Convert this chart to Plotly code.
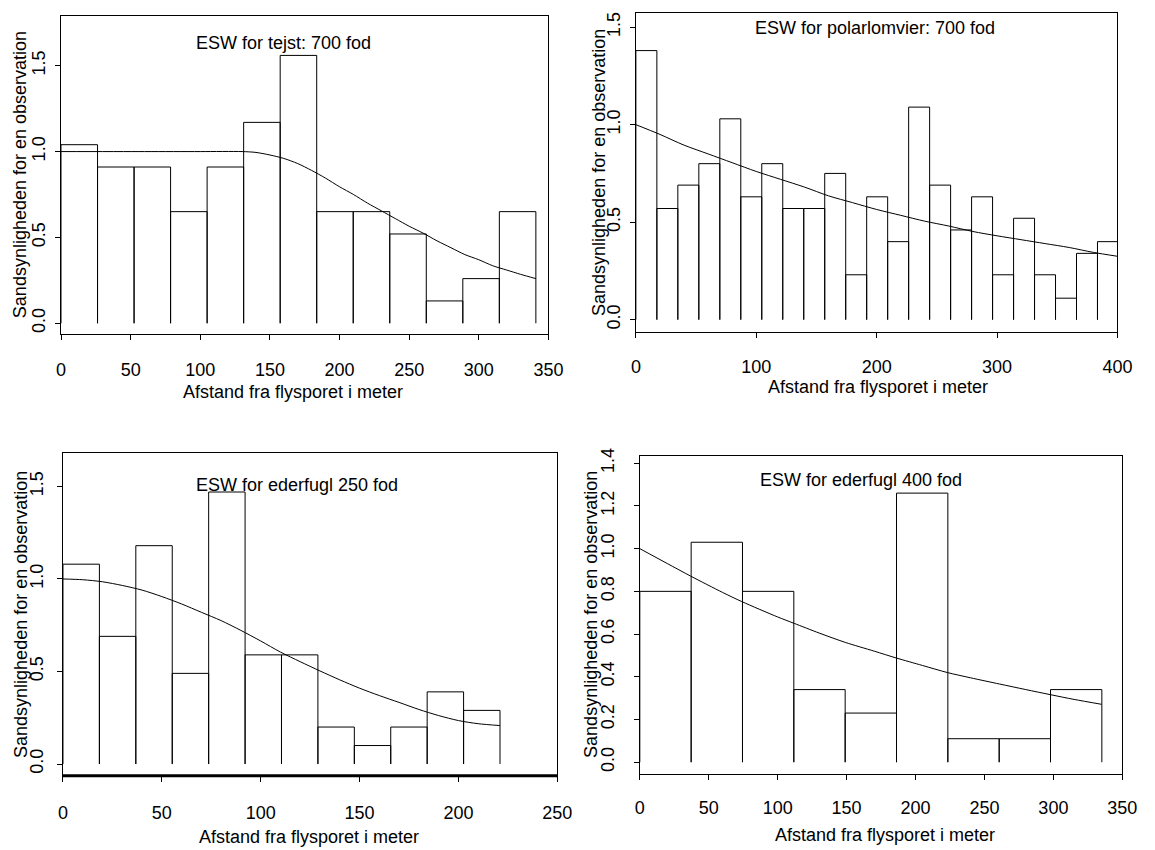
import plotly.graph_objects as go

W, H = 1155, 850

# ---------------- data ----------------
# Panel 1: tejst
tejst_heights = [1.04, 0.91, 0.91, 0.65, 0.91, 1.17, 1.56, 0.65, 0.65, 0.52, 0.13, 0.26, 0.65]
tejst_bin_width = 26.23
tejst_curve_x = [0, 60, 100, 130, 140, 150, 160, 170, 180, 190, 200, 210, 220, 230, 240, 250,
                 260, 270, 280, 290, 300, 310, 320, 330, 341]
tejst_curve_y = [1.0, 1.0, 1.0, 1.0, 0.995, 0.98, 0.96, 0.93, 0.89, 0.845, 0.795, 0.75, 0.70,
                 0.655, 0.61, 0.565, 0.525, 0.48, 0.44, 0.40, 0.37, 0.335, 0.31, 0.285, 0.26]

# Panel 2: polarlomvier
polar_heights = [1.38, 0.57, 0.69, 0.80, 1.03, 0.63, 0.80, 0.57, 0.57, 0.75, 0.23, 0.63,
                 0.40, 1.09, 0.69, 0.46, 0.63, 0.23, 0.52, 0.23, 0.11, 0.34, 0.40]
polar_bin_width = 17.43
polar_curve_x = [0, 20, 40, 60, 80, 100, 120, 140, 160, 180, 200, 220, 240, 260, 280, 300,
                 320, 340, 360, 380, 400]
polar_curve_y = [1.0, 0.95, 0.895, 0.85, 0.805, 0.76, 0.72, 0.68, 0.635, 0.60, 0.565, 0.535,
                 0.505, 0.48, 0.452, 0.43, 0.41, 0.39, 0.37, 0.345, 0.325]

# Panel 3: ederfugl 250 fod
eder250_heights = [1.08, 0.69, 1.18, 0.49, 1.47, 0.59, 0.59, 0.20, 0.10, 0.20, 0.39, 0.29]
eder250_bin_width = 18.42
eder250_curve_x = [0, 10, 20, 30, 40, 50, 60, 70, 80, 90, 100, 110, 120, 130, 140, 150, 160,
                   170, 180, 190, 200, 210, 221]
eder250_curve_y = [1.0, 0.996, 0.985, 0.965, 0.94, 0.905, 0.865, 0.82, 0.775, 0.722, 0.665,
                   0.605, 0.553, 0.503, 0.455, 0.41, 0.37, 0.333, 0.295, 0.262, 0.235, 0.218, 0.208]

# Panel 4: ederfugl 400 fod
eder400_heights = [0.80, 1.03, 0.80, 0.34, 0.23, 1.26, 0.11, 0.11, 0.34]
eder400_bin_width = 37.24
eder400_curve_x = [0, 20, 37, 60, 74, 100, 112, 130, 149, 170, 186, 205, 223, 240, 261, 280,
                   298, 315, 335]
eder400_curve_y = [1.0, 0.93, 0.871, 0.795, 0.752, 0.68, 0.65, 0.605, 0.561, 0.52, 0.488,
                   0.453, 0.42, 0.395, 0.366, 0.34, 0.316, 0.294, 0.271]

titles = ["ESW for tejst: 700 fod", "ESW for polarlomvier: 700 fod",
          "ESW for ederfugl 250 fod", "ESW for ederfugl 400 fod"]
x_title = "Afstand fra flysporet i meter"
y_title = "Sandsynligheden for en observation"

# ---------------- layout geometry (pixels) ----------------
panels = [
    dict(h=tejst_heights, w=tejst_bin_width, cx=tejst_curve_x, cy=tejst_curve_y,
         px=(57, 553), py=(8, 329), xr=[0, 350], yr=[-0.062, 1.79], xd=50,
         yt=[0, 0.5, 1.0, 1.5], tpos=(160, 1.63), xt_px=(293, 388), yt_px=(16, 168),
         ystand=3, xstand=14),
    dict(h=polar_heights, w=polar_bin_width, cx=polar_curve_x, cy=polar_curve_y,
         px=(642, 1132), py=(5, 327), xr=[0, 400], yr=[-0.063, 1.573], xd=100,
         yt=[0, 0.5, 1.0, 1.5], tpos=(199, 1.496), xt_px=(888, 383), yt_px=(605, 166),
         ystand=3, xstand=13),
    dict(h=eder250_heights, w=eder250_bin_width, cx=eder250_curve_x, cy=eder250_curve_y,
         px=(59, 562), py=(449, 775), xr=[0, 250], yr=[-0.063, 1.682], xd=50,
         yt=[0, 0.5, 1.0, 1.5], tpos=(118.5, 1.507), xt_px=(309, 837), yt_px=(17, 612),
         ystand=7, xstand=16),
    dict(h=eder400_heights, w=eder400_bin_width, cx=eder400_curve_x, cy=eder400_curve_y,
         px=(646, 1137), py=(452, 773), xr=[0, 350], yr=[-0.054, 1.435], xd=50,
         yt=[0, 0.2, 0.4, 0.6, 0.8, 1.0, 1.2, 1.4], tpos=(160.5, 1.323), xt_px=(895, 835),
         yt_px=(597, 612), ystand=13, xstand=13),
]

FONT = "Arial, Liberation Sans, Helvetica, sans-serif"
FS = 18

fig = go.Figure()
annotations = []
shapes = []
layout = {}

for i, p in enumerate(panels, start=1):
    sx = "" if i == 1 else str(i)
    xa, ya = "x" + sx, "y" + sx
    # histogram outline (left edge, top, right edge; no bottom edge)
    hx, hy = [], []
    for k, hv in enumerate(p["h"]):
        left = k * p["w"]
        right = (k + 1) * p["w"]
        hx += [left, left, right, right, None]
        hy += [0, hv, hv, 0, None]
    fig.add_trace(go.Scatter(x=hx, y=hy, mode="lines", xaxis=xa, yaxis=ya,
                             line=dict(color="black", width=1), showlegend=False,
                             hoverinfo="skip"))
    fig.add_trace(go.Scatter(x=p["cx"], y=p["cy"], mode="lines", xaxis=xa, yaxis=ya,
                             line=dict(color="black", width=1, shape="spline", smoothing=0.8),
                             showlegend=False))
    layout["xaxis" + sx] = dict(
        domain=[p["px"][0] / W, p["px"][1] / W], range=p["xr"], anchor=ya,
        showgrid=False, zeroline=False, showline=True, mirror=True, linecolor="black",
        linewidth=1, ticks="outside", ticklen=5, tickwidth=1, tickcolor="black",
        tickmode="linear", tick0=0, dtick=p["xd"], ticklabelstandoff=p["xstand"],
        tickfont=dict(family=FONT, size=FS, color="black"))
    layout["yaxis" + sx] = dict(
        domain=[1 - p["py"][1] / H, 1 - p["py"][0] / H], range=p["yr"], anchor=xa,
        showgrid=False, zeroline=False, showline=True, mirror=True, linecolor="black",
        linewidth=1, ticks="outside", ticklen=5, tickwidth=1, tickcolor="black",
        tickmode="array", tickvals=p["yt"], ticktext=[f"{v:.1f}" for v in p["yt"]],
        tickangle=-90, ticklabelstandoff=p["ystand"],
        tickfont=dict(family=FONT, size=FS, color="black"))
    annotations.append(dict(x=p["tpos"][0], y=p["tpos"][1], xref=xa, yref=ya,
                            text=titles[i - 1], showarrow=False,
                            font=dict(family=FONT, size=FS, color="black"),
                            xanchor="center", yanchor="middle"))
    annotations.append(dict(x=p["xt_px"][0] / W, y=1 - p["xt_px"][1] / H, xref="paper",
                            yref="paper", text=x_title, showarrow=False,
                            font=dict(family=FONT, size=FS, color="black"),
                            xanchor="center", yanchor="middle"))
    annotations.append(dict(x=p["yt_px"][0] / W, y=1 - p["yt_px"][1] / H, xref="paper",
                            yref="paper", text=y_title, showarrow=False, textangle=-90,
                            font=dict(family=FONT, size=FS, color="black"),
                            xanchor="center", yanchor="middle"))

# thick bottom axis line of panel 3
shapes.append(dict(type="line", xref="x3 domain", yref="y3 domain", x0=0, x1=1, y0=0, y1=0,
                   line=dict(color="black", width=3)))

fig.update_layout(width=W, height=H, margin=dict(l=0, r=0, t=0, b=0),
                  paper_bgcolor="white", plot_bgcolor="white",
                  annotations=annotations, shapes=shapes, **layout)

fig.write_html("out.html")
